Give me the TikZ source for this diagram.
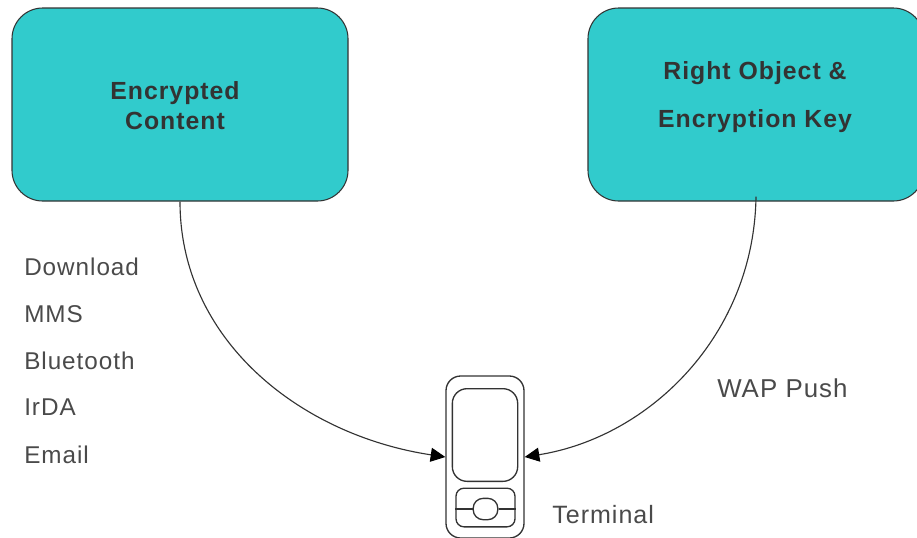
\documentclass[tikz,border=0pt]{standalone}
\usepackage{fontspec}
\setmainfont{Liberation Sans}[LetterSpace=4]
\usetikzlibrary{arrows.meta}
\definecolor{boxteal}{HTML}{31CBCC}
\definecolor{inkc}{HTML}{333333}
\definecolor{labelc}{HTML}{4A4A4A}
\tikzset{
  x=0.75pt,y=-0.75pt,
  tealbox/.style={draw=inkc,line width=0.8pt,fill=boxteal,rounded corners=23pt,inner sep=0pt,
    minimum width=252pt,minimum height=144.75pt},
  boxtext/.style={inner sep=0pt,align=center,text=inkc,font=\fontsize{18.6}{22.5}\selectfont\bfseries},
  phonepart/.style={draw=inkc,line width=1pt,inner sep=0pt},
  lbl/.style={anchor=west,inner sep=0pt,text=labelc,font=\fontsize{18.2}{22}\selectfont},
  conn/.style={draw=inkc,line width=0.85pt,-{Triangle[length=11pt,width=10.5pt,color=black]}}
}
\begin{document}
\begin{tikzpicture}
\useasboundingbox (0,0) rectangle (917,537);
\begin{scope}
\clip (0,0) rectangle (917,537);
\node[tealbox] (content) at (180,104.5) {};
\node[boxtext] (contenttext) at (175,105.5) {Encrypted\\Content};
\node[tealbox] (key) at (756,104.5) {};
\node[boxtext] (keytext) at (755,97) {Right Object \&\\[13.5pt]Encryption Key};
\node[phonepart,rounded corners=11pt,minimum width=58.5pt,minimum height=121.5pt] (phone) at (485,457) {};
\node[phonepart,rounded corners=11pt,minimum width=49pt,minimum height=69.5pt] (screen) at (485,435) {};
\node[phonepart,rounded corners=6pt,minimum width=44.25pt,minimum height=29pt] (pad) at (485.5,507.5) {};
\node[phonepart,rounded corners=7.5pt,minimum width=18.5pt,minimum height=16pt] (btn) at (485.5,509) {};
\draw[phonepart] (pad.west |- btn.west) -- (btn.west);
\draw[phonepart] (btn.east) -- (pad.east |- btn.east);
\end{scope}
\draw[conn] (content.south) .. controls (180,340) and (300,435) .. (phone.west);
\draw[conn] ([yshift=3.75pt]key.south) .. controls (754,335) and (650,437) .. (phone.east);
\node[lbl] (l1) at (24,267) {Download};
\node[lbl] (l2) at (24,314) {MMS};
\node[lbl] (l3) at (24,361) {Bluetooth};
\node[lbl] (l4) at (24,407) {IrDA};
\node[lbl] (l5) at (24,455) {Email};
\node[lbl,font=\fontsize{19.4}{22}\selectfont] (wap) at (717,388) {WAP Push};
\node[lbl,font=\fontsize{18.8}{22}\selectfont] (term) at (552,515) {Terminal};
\end{tikzpicture}
\end{document}
